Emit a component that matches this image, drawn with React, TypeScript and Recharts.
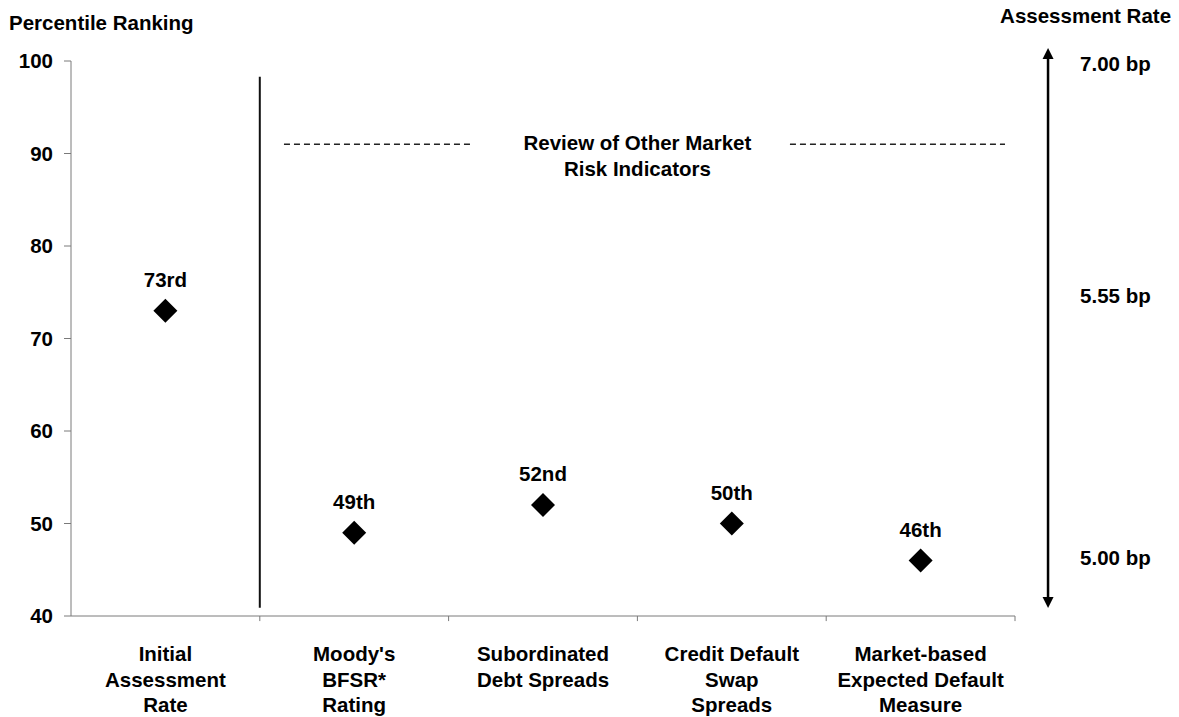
import React from 'react';
import {
    ComposedChart, Scatter, XAxis, YAxis, ReferenceLine, ReferenceDot
} from 'recharts';

// values
const categoryLines = [
    ['Initial', 'Assessment', 'Rate'],
    ["Moody's", 'BFSR*', 'Rating'],
    ['Subordinated', 'Debt Spreads'],
    ['Credit Default', 'Swap', 'Spreads'],
    ['Market-based', 'Expected Default', 'Measure'],
];
const percentiles = [73, 49, 52, 50, 46];
const rankLabels = ['73rd', '49th', '52nd', '50th', '46th'];
const percentileTicks = [40, 50, 60, 70, 80, 90, 100];

// right-hand assessment-rate scale, placed against the percentile axis
const rateLabels = ['7.00 bp', '5.55 bp', '5.00 bp'];
const ratePositions = [99.7, 74.6, 46.3];

const FONT = '"Liberation Sans", Arial, Helvetica, sans-serif';
const FS = 20.5;
const AXIS_GREY = '#7a7a7a';
const ARROW_X = 5.175;

// one slot per category on a 0..n axis, marks sit in the middle of each slot
const points = categoryLines.map((lines, i) => ({
    x: i + 0.5,
    value: percentiles[i],
    label: rankLabels[i],
}));
const labelTicks = points.map(p => p.x);
const categoryBounds = categoryLines.map((_, i) => i + 1);

const CategoryTick = (props: any) => {
    const { x, y, payload } = props;
    const lines = categoryLines[Math.floor(payload.value)] || [];
    return (
        <text x={x} y={y} textAnchor="middle" fontFamily={FONT} fontSize={FS} fontWeight={700} fill="#000">
            {lines.map((line, i) => (
                <tspan key={i} x={x} y={y + 45 + i * 25.5}>{line}</tspan>
            ))}
        </text>
    );
};

const Diamond = (props: any) => {
    const { cx, cy, payload } = props;
    const s = 12;
    return (
        <g>
            <polygon
                points={`${cx},${cy - s} ${cx + s},${cy} ${cx},${cy + s} ${cx - s},${cy}`}
                fill="#000"
            />
            <text x={cx} y={cy - 24} textAnchor="middle" fontFamily={FONT} fontSize={FS} fontWeight={700} fill="#000">
                {payload.label}
            </text>
        </g>
    );
};

const DoubleArrow = (props: any) => {
    const { x1, y1, x2, y2 } = props;
    const x = (x1 + x2) / 2;
    const top = Math.min(y1, y2);
    const bottom = Math.max(y1, y2);
    const head = 11;
    const half = 5.5;
    return (
        <g>
            <line x1={x} y1={top + head - 2} x2={x} y2={bottom - head + 2} stroke="#000" strokeWidth={2.5} />
            <polygon points={`${x},${top} ${x + half},${top + head} ${x - half},${top + head}`} fill="#000" />
            <polygon points={`${x},${bottom} ${x + half},${bottom - head} ${x - half},${bottom - head}`} fill="#000" />
        </g>
    );
};

const centerOf = (viewBox: any) => ({
    cx: viewBox.x + (viewBox.width || 0) / 2,
    cy: viewBox.y + (viewBox.height || 0) / 2,
});

const ReviewLabel = (props: any) => {
    const { cx, cy } = centerOf(props.viewBox);
    return (
        <text x={cx} y={cy} textAnchor="middle" fontFamily={FONT} fontSize={FS} fontWeight={700} fill="#000">
            <tspan x={cx} y={cy + 6}>Review of Other Market</tspan>
            <tspan x={cx} y={cy + 32}>Risk Indicators</tspan>
        </text>
    );
};

const RateLabel = (props: any) => {
    const { cx, cy } = centerOf(props.viewBox);
    return (
        <text x={cx + 32} y={cy} dy="0.355em" fontFamily={FONT} fontSize={FS} fontWeight={700} fill="#000">
            {props.text}
        </text>
    );
};

const RightTitle = (props: any) => {
    const { cx, cy } = centerOf(props.viewBox);
    return (
        <text x={cx + 123} y={cy - 38} textAnchor="end" fontFamily={FONT} fontSize={FS} fontWeight={700} fill="#000">
            Assessment Rate
        </text>
    );
};

const LeftTitle = (props: any) => {
    const { viewBox } = props;
    return (
        <text x={viewBox.x + 9} y={viewBox.y - 31} fontFamily={FONT} fontSize={FS} fontWeight={700} fill="#000">
            Percentile Ranking
        </text>
    );
};

export default function App() {
    const tickStyle = { fill: '#000', fontSize: FS, fontWeight: 700, fontFamily: FONT };

    return (
        <div style={{ position: 'absolute', left: 0, top: 0, width: 1179, height: 717, background: '#fff', fontFamily: FONT }}>
            <ComposedChart
                width={1179}
                height={717}
                data={points}
                margin={{ top: 61, right: 164, bottom: 11, left: 0 }}
            >
                <XAxis
                    dataKey="x"
                    type="number"
                    domain={[0, categoryLines.length]}
                    allowDataOverflow
                    ticks={labelTicks}
                    interval={0}
                    height={90}
                    tickSize={0}
                    tickMargin={0}
                    tickLine={false}
                    axisLine={{ stroke: AXIS_GREY, strokeWidth: 1 }}
                    tick={<CategoryTick />}
                />
                <YAxis
                    type="number"
                    domain={[40, 100]}
                    allowDataOverflow
                    ticks={percentileTicks}
                    interval={0}
                    width={71}
                    tickSize={7}
                    tickMargin={11}
                    axisLine={{ stroke: AXIS_GREY, strokeWidth: 1 }}
                    tickLine={{ stroke: AXIS_GREY, strokeWidth: 1 }}
                    tick={tickStyle}
                    label={<LeftTitle />}
                />

                {/* boundary tick marks between categories */}
                {categoryBounds.map(b => (
                    <ReferenceLine
                        key={`bound-${b}`}
                        segment={[{ x: b, y: 40 }, { x: b, y: 39.45 }]}
                        stroke={AXIS_GREY}
                        strokeWidth={1}
                        ifOverflow="visible"
                    />
                ))}

                {/* divider between the initial rate and the other indicators */}
                <ReferenceLine
                    segment={[{ x: 1, y: 98.3 }, { x: 1, y: 40.9 }]}
                    stroke="#111"
                    strokeWidth={2}
                    ifOverflow="visible"
                />

                <ReferenceLine
                    segment={[{ x: 1.128, y: 91 }, { x: 2.134, y: 91 }]}
                    stroke="#222"
                    strokeWidth={1.5}
                    strokeDasharray="6 4"
                    ifOverflow="visible"
                />
                <ReferenceLine
                    segment={[{ x: 3.808, y: 91 }, { x: 4.947, y: 91 }]}
                    stroke="#222"
                    strokeWidth={1.5}
                    strokeDasharray="6 4"
                    ifOverflow="visible"
                />
                <ReferenceDot
                    x={3}
                    y={91}
                    r={0}
                    fill="none"
                    stroke="none"
                    ifOverflow="visible"
                    label={<ReviewLabel />}
                />

                {/* assessment rate double arrow with its labels */}
                <ReferenceLine
                    segment={[{ x: ARROW_X, y: 101.4 }, { x: ARROW_X, y: 40.86 }]}
                    ifOverflow="visible"
                    shape={<DoubleArrow />}
                />
                {rateLabels.map((text, i) => (
                    <ReferenceDot
                        key={text}
                        x={ARROW_X}
                        y={ratePositions[i]}
                        r={0}
                        fill="none"
                        stroke="none"
                        ifOverflow="visible"
                        label={<RateLabel text={text} />}
                    />
                ))}
                <ReferenceDot
                    x={ARROW_X}
                    y={100}
                    r={0}
                    fill="none"
                    stroke="none"
                    ifOverflow="visible"
                    label={<RightTitle />}
                />

                <Scatter dataKey="value" isAnimationActive={false} shape={<Diamond />} />
            </ComposedChart>
        </div>
    );
}
